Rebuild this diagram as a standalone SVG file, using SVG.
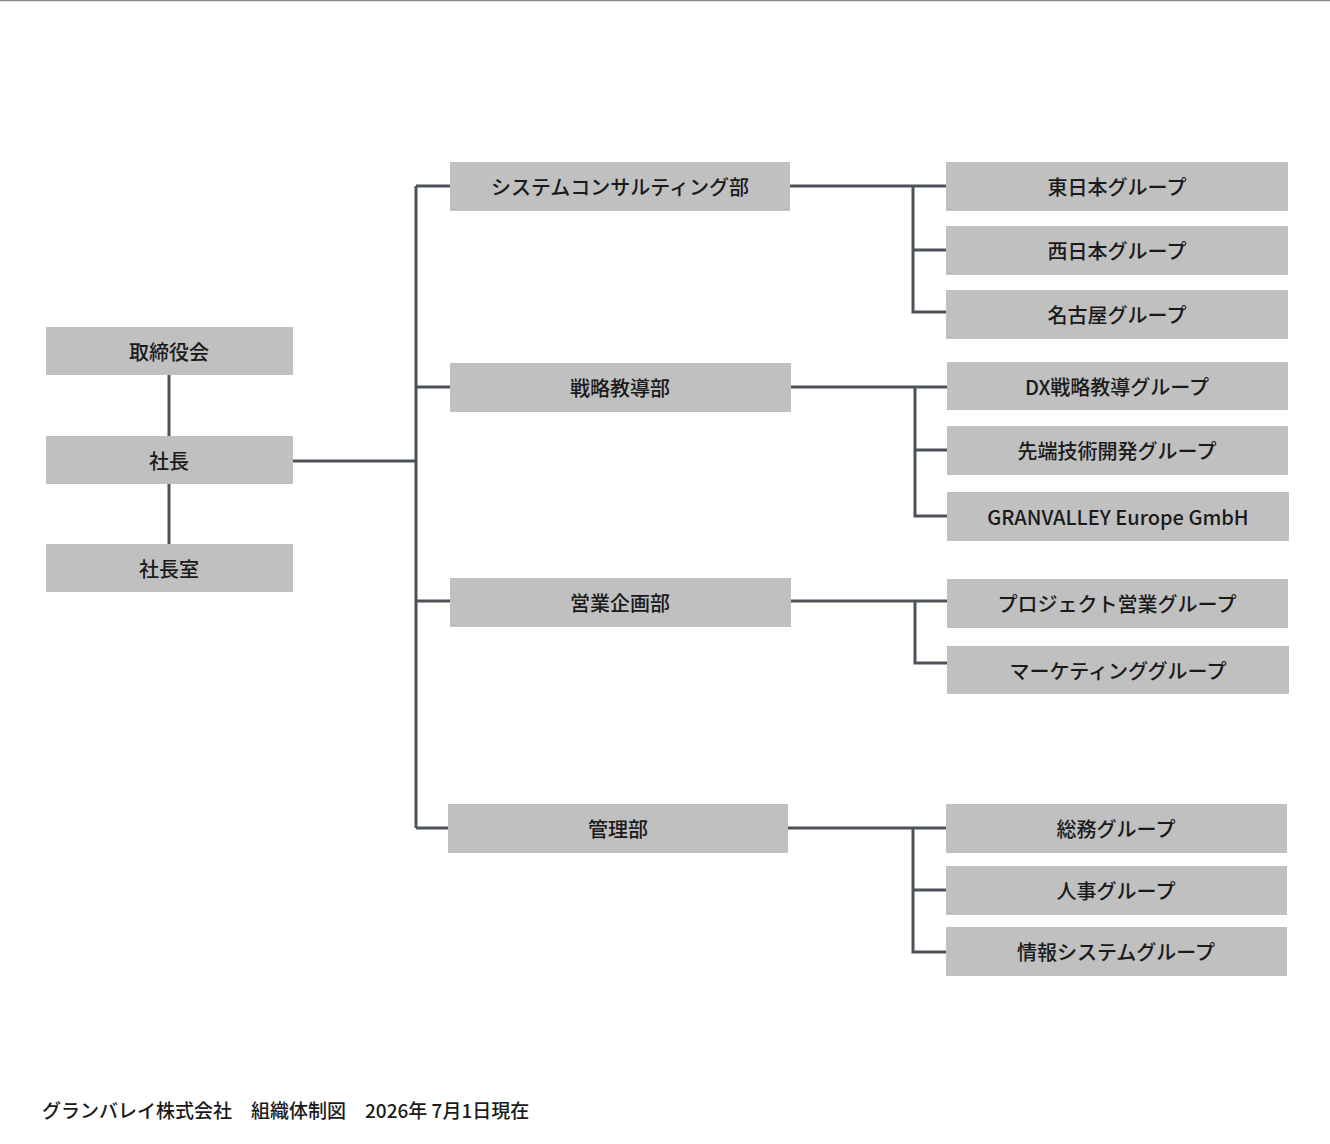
<svg xmlns="http://www.w3.org/2000/svg" width="1330" height="1144" viewBox="0 0 1330 1144">
<style>
.b{fill:#c0c0c0}
.t{font-family:"Noto Sans CJK JP","Noto Sans",sans-serif;font-size:20px;font-weight:500;fill:#1a1a1a;text-anchor:middle;dominant-baseline:central}
.c{fill:none;stroke:#4d5259;stroke-width:3}
</style>
<rect width="1330" height="1144" fill="#fff"/>
<line x1="0" y1="0.5" x2="1330" y2="0.5" stroke="#888" stroke-width="1.5"/>
<g id="connectors" class="c">
<path d="M169 375V436M169 484V544M293 461H416M416 186V828M416 186H450M416 387H450M416 601H450M416 828H448"/>
<path d="M790 186H946M913 186V312H946M913 250H946"/>
<path d="M791 387H947M915 387V516H947M915 450H947"/>
<path d="M791 601H947M915 601V663H947"/>
<path d="M788 828H946M913 828V952H946M913 890H946"/>
</g>
<g id="n1"><rect class="b" x="46" y="327" width="247" height="48"/><text class="t" x="169" y="351">取締役会</text></g>
<g id="n2"><rect class="b" x="46" y="436" width="247" height="48"/><text class="t" x="169" y="460">社長</text></g>
<g id="n3"><rect class="b" x="46" y="544" width="247" height="48"/><text class="t" x="169" y="568">社長室</text></g>
<g id="d1"><rect class="b" x="450" y="162" width="340" height="49"/><text class="t" x="620" y="186">システムコンサルティング部</text></g>
<g id="d2"><rect class="b" x="450" y="363" width="341" height="49"/><text class="t" x="620" y="387">戦略教導部</text></g>
<g id="d3"><rect class="b" x="450" y="578" width="341" height="49"/><text class="t" x="620" y="602">営業企画部</text></g>
<g id="d4"><rect class="b" x="448" y="804" width="340" height="49"/><text class="t" x="618" y="828">管理部</text></g>
<g id="g1"><rect class="b" x="946" y="162" width="342" height="49"/><text class="t" x="1117" y="186">東日本グループ</text></g>
<g id="g2"><rect class="b" x="946" y="226" width="342" height="49"/><text class="t" x="1117" y="250">西日本グループ</text></g>
<g id="g3"><rect class="b" x="946" y="290" width="342" height="49"/><text class="t" x="1117" y="314">名古屋グループ</text></g>
<g id="g4"><rect class="b" x="947" y="362" width="341" height="48"/><text class="t" x="1117" y="386">DX戦略教導グループ</text></g>
<g id="g5"><rect class="b" x="947" y="426" width="341" height="49"/><text class="t" x="1117" y="450">先端技術開発グループ</text></g>
<g id="g6"><rect class="b" x="947" y="492" width="342" height="49"/><text class="t" x="1118" y="516">GRANVALLEY Europe GmbH</text></g>
<g id="g7"><rect class="b" x="947" y="579" width="341" height="49"/><text class="t" x="1117" y="603">プロジェクト営業グループ</text></g>
<g id="g8"><rect class="b" x="947" y="646" width="342" height="48"/><text class="t" x="1118" y="670">マーケティンググループ</text></g>
<g id="g9"><rect class="b" x="946" y="804" width="341" height="49"/><text class="t" x="1116" y="828">総務グループ</text></g>
<g id="g10"><rect class="b" x="946" y="866" width="341" height="49"/><text class="t" x="1116" y="890">人事グループ</text></g>
<g id="g11"><rect class="b" x="946" y="927" width="341" height="49"/><text class="t" x="1116" y="951">情報システムグループ</text></g>
<text x="42" y="1109" style="font-family:'Noto Sans CJK JP','Noto Sans',sans-serif;font-size:19px;font-weight:500;fill:#1a1a1a;dominant-baseline:central" xml:space="preserve">グランバレイ株式会社　組織体制図　2026年 7月1日現在</text>
</svg>
